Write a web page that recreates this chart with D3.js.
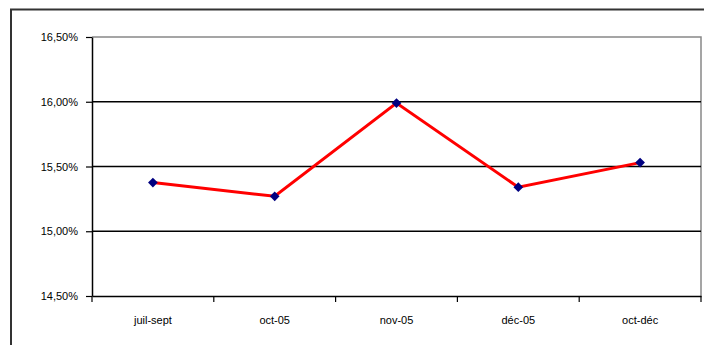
<!DOCTYPE html>
<html><head><meta charset="utf-8">
<script src="https://cdn.jsdelivr.net/npm/d3@7"></script>
<style>body{margin:0;background:#fff}svg{display:block}</style>
</head><body>
<script>
const categories = ["juil-sept", "oct-05", "nov-05", "déc-05", "oct-déc"];
const values = [15.376, 15.27, 15.99, 15.34, 15.53];
const yTicks = [14.5, 15.0, 15.5, 16.0, 16.5];

const W = 704, H = 345;
const svg = d3.select("body").append("svg").attr("width", W).attr("height", H);
const m = {left: 92, top: 37, right: 701, bottom: 296};

// outer frame
svg.append("rect").attr("x", 11).attr("y", 9.5).attr("width", W).attr("height", H)
  .attr("fill", "none").attr("stroke", "#333").attr("stroke-width", 2);

const x = d3.scaleBand().domain(categories).range([m.left, m.right]);
const y = d3.scaleLinear().domain([14.5, 16.5]).range([m.bottom, m.top]);

// plot area border (top/right)
svg.append("path").attr("d", `M${m.left},${m.top}H${m.right}V${m.bottom}`)
  .attr("fill", "none").attr("stroke", "#888").attr("stroke-width", 1.5);

// gridlines
svg.append("g").selectAll("line").data(yTicks.filter(t => t > 14.5 && t < 16.5)).join("line")
  .attr("x1", m.left).attr("x2", m.right).attr("y1", d => y(d)).attr("y2", d => y(d))
  .attr("stroke", "#000").attr("stroke-width", 1.5);

const fmt = d => d3.format(".2f")(d).replace(".", ",") + "%";
const yAxis = svg.append("g").attr("transform", `translate(${m.left},0)`)
  .call(d3.axisLeft(y).tickValues(yTicks).tickFormat(fmt).tickSize(6).tickSizeOuter(0).tickPadding(8));
yAxis.select(".domain").attr("stroke", "#000").attr("stroke-width", 1.5);
yAxis.selectAll(".tick line").attr("stroke", "#000").attr("stroke-width", 1.2);
yAxis.selectAll("text").attr("font-family", "Liberation Sans, Arial, sans-serif").attr("font-size", 11).attr("fill", "#000");

const xAxis = svg.append("g").attr("transform", `translate(0,${m.bottom})`)
  .call(d3.axisBottom(x).tickSize(0).tickPadding(20));
xAxis.select(".domain").attr("stroke", "#000").attr("stroke-width", 1.5);
xAxis.selectAll("text").attr("font-family", "Liberation Sans, Arial, sans-serif").attr("font-size", 11).attr("fill", "#000");
// category boundary ticks
svg.append("g").selectAll("line").data(categories.concat([null])).join("line")
  .attr("x1", (d, i) => m.left + i * x.step()).attr("x2", (d, i) => m.left + i * x.step())
  .attr("y1", m.bottom).attr("y2", m.bottom + 6).attr("stroke", "#000").attr("stroke-width", 1.2);

const cx = d => x(d) + x.bandwidth() / 2;
svg.append("path").datum(values)
  .attr("d", d3.line().x((d, i) => cx(categories[i])).y(d => y(d)))
  .attr("fill", "none").attr("stroke", "#ff0000").attr("stroke-width", 3);

svg.append("g").selectAll("path").data(values).join("path")
  .attr("transform", (d, i) => `translate(${cx(categories[i])},${y(d)})`)
  .attr("d", d3.symbol().type(d3.symbolDiamond2 || d3.symbolDiamond).size(60))
  .attr("fill", "#000080");
</script>
</body></html>
